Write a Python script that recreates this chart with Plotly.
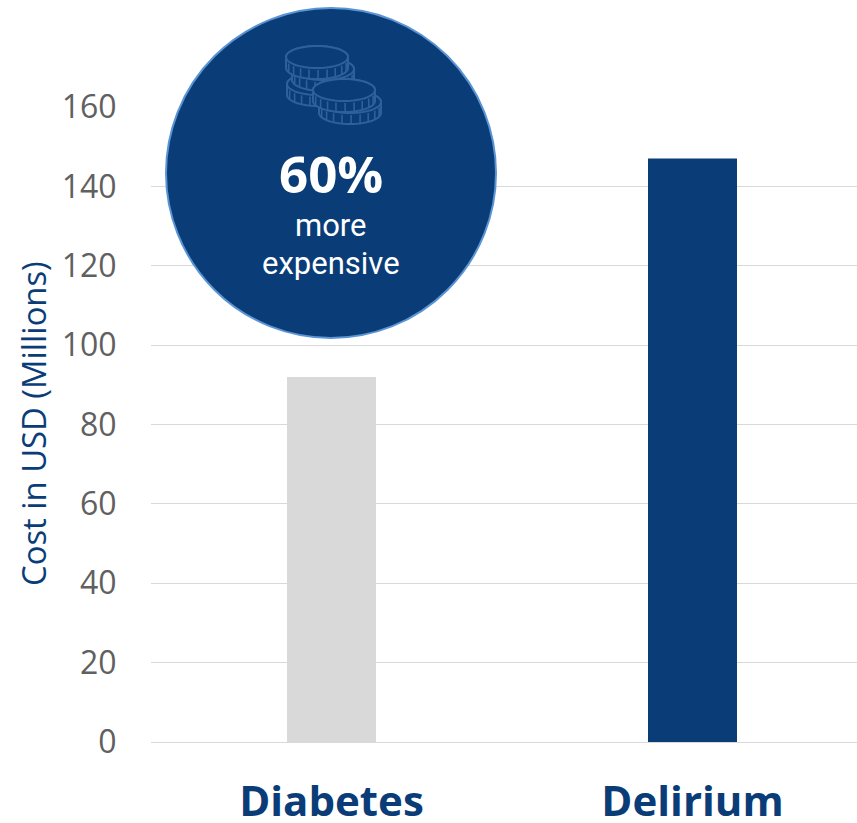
import math
import plotly.graph_objects as go

categories = ["Diabetes", "Delirium"]
costs = [92, 147]
bar_colors = ["#d9d9d9", "#0a3d78"]
y_ticks = [0, 20, 40, 60, 80, 100, 120, 140, 160]

W, H = 857, 823
L, R, T, B = 151, 857, 107, 742
BAND = 361
NAVY = "#0a3d78"
COIN = "#2f609c"

def px(x):
    return (x - L) / (R - L)

def py(y):
    return (B - y) / (B - T)

def path(points, close=True):
    s = "M " + " L ".join(f"{px(x):.5f},{py(y):.5f}" for x, y in points)
    return s + (" Z" if close else "")

def ell(cx, cy, rx, ry, a0=0, a1=360, n=60):
    return [(cx + rx * math.cos(math.radians(a0 + (a1 - a0) * i / n)),
             cy + ry * math.sin(math.radians(a0 + (a1 - a0) * i / n))) for i in range(n + 1)]

shapes = []
# badge circle
shapes.append(dict(type="circle", xref="paper", yref="paper", layer="above",
                   x0=px(166), x1=px(496), y0=py(338), y1=py(8),
                   fillcolor=NAVY, line=dict(color="#5b94d3", width=2)))

def coin(cx, cy, rx=31, ry=11, h=11):
    body = ell(cx, cy, rx, ry, 180, 360, 30)
    lower = ell(cx, cy + h, rx, ry, 0, 180, 30)
    shapes.append(dict(type="path", xref="paper", yref="paper", layer="above",
                       path=path(body + lower), fillcolor=NAVY,
                       line=dict(color=COIN, width=2)))
    for a in range(20, 180, 17):
        x = cx + rx * math.cos(math.radians(a))
        y0 = cy + ry * math.sin(math.radians(a))
        shapes.append(dict(type="path", xref="paper", yref="paper", layer="above",
                           path=path([(x, y0 + 2), (x, y0 + h)], close=False),
                           line=dict(color=COIN, width=1.6)))
    shapes.append(dict(type="path", xref="paper", yref="paper", layer="above",
                       path=path(ell(cx, cy, rx, ry)), fillcolor=NAVY,
                       line=dict(color=COIN, width=2)))

for c in [(318, 84), (323, 69), (317, 57), (350, 102), (344, 90)]:
    coin(*c)

fig = go.Figure(go.Bar(
    x=categories, y=costs, marker=dict(color=bar_colors, line=dict(width=0)),
    hoverinfo="x+y",
))

fig.update_layout(
    width=W, height=H, autosize=False, showlegend=False,
    paper_bgcolor="white", plot_bgcolor="white",
    margin=dict(l=L, r=W - R, t=T, b=H - B, pad=0),
    bargap=1 - 89 / BAND, shapes=shapes,
    font=dict(family="Open Sans"),
    xaxis=dict(
        type="category", range=[-0.5, -0.5 + (R - L) / BAND], automargin=False,
        showgrid=False, zeroline=False,
        showline=True, linecolor="#d9d9d9", linewidth=1.2,
        ticks="outside", ticklen=22, tickcolor="rgba(0,0,0,0)",
        tickfont=dict(family="Open Sans", size=42, color=NAVY, weight="bold"),
    ),
    yaxis=dict(
        range=[0, 160], tickvals=y_ticks, showgrid=True, gridcolor="#d9d9d9", gridwidth=1.4,
        automargin=False,
        zeroline=False, showline=False, ticks="outside", ticklen=27, tickcolor="rgba(0,0,0,0)",
        tickfont=dict(family="Open Sans", size=32, color="#606060"),
    ),
    annotations=[
        dict(text="Cost in USD (Millions)", xref="paper", yref="paper", x=px(33), y=py(424),
             textangle=-90, showarrow=False, xanchor="center", yanchor="middle",
             font=dict(family="Open Sans", size=32.8, color=NAVY)),
        dict(text="<b>60%</b>", xref="paper", yref="paper", x=px(331), y=py(173),
             showarrow=False, xanchor="center", yanchor="middle",
             font=dict(family="Open Sans", size=51, color="white")),
        dict(text="more", xref="paper", yref="paper", x=px(331), y=py(226),
             showarrow=False, xanchor="center", yanchor="middle",
             font=dict(family="Roboto", size=31, color="white")),
        dict(text="expensive", xref="paper", yref="paper", x=px(331), y=py(263),
             showarrow=False, xanchor="center", yanchor="middle",
             font=dict(family="Roboto", size=31, color="white")),
    ],
)

fig.write_html(
    "out.html",
    config=dict(displayModeBar=False),
    post_script="document.body.style.margin='0';document.body.style.overflow='hidden';"
                "document.documentElement.style.overflow='hidden';",
)
